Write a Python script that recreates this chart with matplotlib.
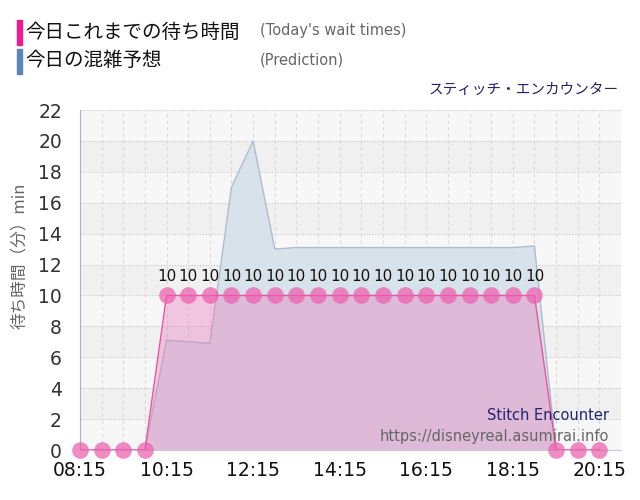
import matplotlib
matplotlib.use("Agg")
import matplotlib.pyplot as plt
import numpy as np

plt.rcParams['font.family'] = ['DejaVu Sans', 'Noto Sans CJK JP']

times = ["08:15", "08:45", "09:15", "09:45", "10:15", "10:45", "11:15", "11:45",
         "12:15", "12:45", "13:15", "13:45", "14:15", "14:45", "15:15", "15:45",
         "16:15", "16:45", "17:15", "17:45", "18:15", "18:45", "19:15", "19:45", "20:15"]
wait_times = [0, 0, 0, 0, 10, 10, 10, 10, 10, 10, 10, 10, 10, 10, 10, 10,
              10, 10, 10, 10, 10, 10, 0, 0, 0]
prediction = [0, 0, 0, 0, 7.1, 7.0, 6.9, 17.0, 20.0, 13.0, 13.1, 13.1, 13.1, 13.1,
              13.1, 13.1, 13.1, 13.1, 13.1, 13.1, 13.1, 13.2, 0, 0, 0]
xtick_labels = ["08:15", "10:15", "12:15", "14:15", "16:15", "18:15", "20:15"]
yticks = list(range(0, 23, 2))


def to_h(s):
    h, m = s.split(":")
    return int(h) + int(m) / 60.0


x = np.array([to_h(t) for t in times])
wt = np.array(wait_times, dtype=float)
pr = np.array(prediction, dtype=float)

fig = plt.figure(figsize=(6.4, 5.0), dpi=100)
ax = fig.add_axes([80 / 640, 50 / 500, 541 / 640, 340 / 500])

xmin, xmax = to_h("08:15"), to_h("20:45")
ax.set_xlim(xmin, xmax)
ax.set_ylim(0, 22)

# alternating bands
ax.set_facecolor('#f7f7f7')
for y0 in range(0, 22, 2):
    if (y0 // 2) % 2 == 1:
        ax.axhspan(y0, y0 + 2, color='#f0f0f0', zorder=0, lw=0)

# grid
for xv in np.arange(xmin, xmax + 0.01, 0.5):
    ax.axvline(xv, color='#d8d8d8', lw=0.8, ls=(0, (3, 3)), zorder=0.5)
for yv in yticks:
    ax.axhline(yv, color='#c8c8c8', lw=0.8, ls=(0, (1, 1.5)), zorder=0.5)

# prediction area
ax.fill_between(x, 0, pr, color='#d8e2ea', zorder=1, lw=0)
ax.plot(x, pr, color='#aebccb', lw=1.0, zorder=1.5)

# wait times
ax.fill_between(x, 0, wt, color='#ea78bc', alpha=0.38, zorder=2, lw=0)
ax.plot(x, wt, color='#e8569f', lw=1.0, zorder=3)
ax.plot(x, wt, ls='none', marker='o', ms=12, mfc='#ec5fae', mec='none',
        alpha=0.72, zorder=4, clip_on=False)

for xi, v in zip(x, wt):
    if v > 0:
        ax.text(xi, v + 0.75, f"{int(v)}", ha='center', va='bottom',
                fontsize=11, color='#111111', zorder=5)

ax.set_xticks([to_h(t) for t in xtick_labels])
ax.set_xticklabels(xtick_labels, fontsize=13.5, color='#111111')
ax.set_yticks(yticks)
ax.set_yticklabels([str(v) for v in yticks], fontsize=13.5, color='#333333')
ax.tick_params(axis='x', length=0, pad=8)
ax.tick_params(axis='y', length=0, pad=13)

for s in ['top', 'right']:
    ax.spines[s].set_visible(False)
ax.spines['left'].set_color('#b0b0c0')
ax.spines['bottom'].set_color('#c8c8d0')

ax.set_ylabel("待ち時間（分）min", fontsize=12, color='#666666',
              family=['Noto Sans CJK JP', 'DejaVu Sans'])
ax.yaxis.set_label_coords(-0.097, 0.57)

# legend-like header
fig.patches.append(plt.Rectangle((17 / 640, 1 - 45 / 500), 5 / 640, 25 / 500,
                                 transform=fig.transFigure, color='#ee1c8e'))
fig.patches.append(plt.Rectangle((17 / 640, 1 - 74 / 500), 5 / 640, 25 / 500,
                                 transform=fig.transFigure, color='#5b86b5'))
fig.text(25 / 640, 1 - 32 / 500, "今日これまでの待ち時間", fontsize=14,
         va='center', color='#111111', family=['Noto Sans CJK JP', 'DejaVu Sans'])
fig.text(260 / 640, 1 - 31 / 500, "(Today's wait times)", fontsize=10.5,
         va='center', color='#666666')
fig.text(25 / 640, 1 - 61 / 500, "今日の混雑予想", fontsize=14,
         va='center', color='#111111', family=['Noto Sans CJK JP', 'DejaVu Sans'])
fig.text(260 / 640, 1 - 60 / 500, "(Prediction)", fontsize=10.5,
         va='center', color='#666666')
fig.text(619 / 640, 1 - 90 / 500, "スティッチ・エンカウンター", fontsize=10.5,
         ha='right', va='center', color='#23236e',
         family=['Noto Sans CJK JP', 'DejaVu Sans'])

fig.text(609 / 640, 1 - 415 / 500, "Stitch Encounter", fontsize=10.5,
         ha='right', va='center', color='#23236e')
fig.text(609 / 640, 1 - 436 / 500, "https://disneyreal.asumirai.info", fontsize=10.5,
         ha='right', va='center', color='#666666')

fig.savefig("out.png", dpi=100)
